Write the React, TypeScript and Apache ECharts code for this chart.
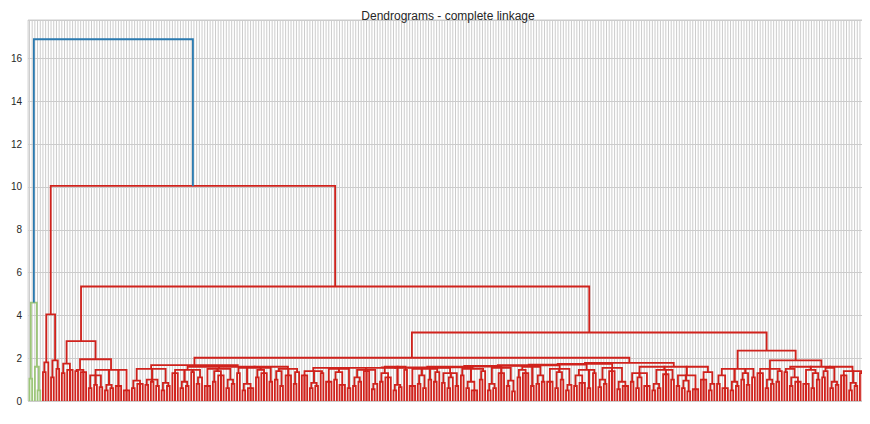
import React, { useEffect, useRef } from "react";
import * as echarts from "echarts";

// Tree: [mergeHeight, ...children]; 0 = leaf
const clusterA = [4.6, [1.05, 0, 0], [1.6, 0, [0.5, 0, 0]]];
const clusterB = [4.05, [1.8, [1.35, 0, 0], 0], [1.9, [1.1, 0, 0], [1.5, 0, 0]]];
const clusterC = [2.8, [1.75, [1.3, 0, 0], [1.45, 0, 0, 0]],
  [1.95, [1.45, [1.4, 0, 0], [1.35, 0, 0, 0]],
    [1.45, [1.2, [0.6, 0, 0], [0.75, 0, 0], [0.65, 0, 0]], [0.75, [0.5, 0, 0], [0.6, 0, 0]], [0.7, 0, 0, 0], [0.5, 0, 0, 0]]]];
const clusterD1 = [1.5, [0.95, [0.6, 0, 0], [0.8, 0, 0, 0]], [1.0, [0.75, 0, 0], [0.9, 0, 0], [0.7, 0, 0]], [0.85, [0.5, 0, 0], [0.7, 0, 0]]];
const clusterD2 = [1.6,
  [1.45, [1.3, 0, 0, 0], [0.9, [0.6, 0, 0], [0.7, 0, 0]], [1.35, 0, 0], [1.1, [0.8, 0, 0], 0]],
  [1.5, [0.7, 0, 0, 0], [1.4, [0.9, 0, 0], [1.2, 0, 0, 0]], [1.0, [0.6, 0, 0], [0.8, 0, 0]]],
  [1.55, [1.3, 0, 0], [0.8, [0.5, 0, 0], [0.6, 0, 0, 0]], [1.45, [1.1, 0, 0], [1.3, 0, 0, 0]], [0.9, 0, 0]],
  [1.5, [1.4, [1.0, 0, 0], [0.7, 0, 0]], [1.2, 0, 0, 0], [1.35, [0.8, 0, 0], 0]]];
const clusterE1a = [1.55,
  [1.4, [1.2, 0, 0, 0], [0.85, [0.6, 0, 0], [0.7, 0, 0]], [1.3, 0, 0]],
  [1.5, [0.9, 0, 0, 0], [1.35, [1.0, 0, 0], [0.75, 0, 0, 0]], [0.6, 0, 0]],
  [1.45, [1.1, [0.7, 0, 0], [0.9, 0, 0]], [1.4, 0, 0, 0], [0.8, [0.55, 0, 0], 0]],
  [1.6, [1.3, [0.9, 0, 0], [1.1, 0, 0, 0]], [0.75, [0.5, 0, 0], [0.65, 0, 0]], [1.45, 0, 0]],
  [1.5, [0.7, 0, 0, 0], [1.2, [0.8, 0, 0], [0.6, 0, 0]], [1.0, 0, 0], [1.35, [0.9, 0, 0], 0]],
  [1.3, [0.85, 0, 0], [1.1, [0.6, 0, 0], 0], [0.7, 0, 0]]];
const clusterE1bGroups = [
  [1.5, [1.2, 0, 0], [0.9, [0.6, 0, 0], [0.5, 0, 0, 0]], [1.4, [1.0, 0, 0], 0]],
  [1.55, [0.8, [0.5, 0, 0], [0.6, 0, 0]], [1.3, 0, 0, 0], [0.95, [0.7, 0, 0], [0.45, 0, 0]]],
  [1.6, [1.45, [1.1, 0, 0], [1.3, 0, 0, 0]], [0.7, 0, 0], [1.2, [0.8, 0, 0], [0.9, 0, 0]]],
  [1.5, [0.9, 0, 0, 0], [1.35, [0.6, 0, 0], [1.0, 0, 0]], [0.75, [0.5, 0, 0], 0]],
  [1.45, [1.2, [0.7, 0, 0], [0.85, 0, 0, 0]], [0.6, 0, 0], [1.3, 0, 0]],
  [1.55, [1.0, [0.65, 0, 0], [0.8, 0, 0]], [1.4, 0, 0, 0], [0.9, [0.55, 0, 0], [0.7, 0, 0, 0]]]];
const ladderHeightsE1 = [1.57, 1.61, 1.64, 1.67, 1.7, 1.73];
const clusterE2 = [1.6,
  [1.3, [0.9, 0, 0], [1.1, [0.6, 0, 0], 0], [0.7, 0, 0, 0]],
  [1.45, [0.8, [0.5, 0, 0], [0.6, 0, 0]], [1.25, 0, 0, 0], [1.0, 0, 0]],
  [1.2, [0.7, 0, 0], [0.95, [0.6, 0, 0], [0.45, 0, 0]], [0.55, 0, 0, 0]],
  [1.35, [1.0, 0, 0, 0], [0.8, [0.5, 0, 0], 0]]];
const clusterF1 = [1.5, [1.2, [0.8, 0, 0], [0.6, 0, 0, 0]], [0.9, [0.5, 0, 0], [0.7, 0, 0]], [1.3, [1.0, 0, 0], [0.75, 0, 0]], [1.1, 0, 0]];
const clusterF2a = [1.5, [1.3, 0, 0, 0], [1.0, [0.6, 0, 0], [0.8, 0, 0]], [1.4, [0.9, 0, 0], 0]];
const clusterF2b = [1.6,
  [1.5, [1.35, 0, 0], [1.1, [0.7, 0, 0], [0.9, 0, 0, 0]]],
  [1.45, [0.8, 0, 0, 0], [1.3, [0.6, 0, 0], [1.0, 0, 0]]],
  [1.55, [1.4, [1.1, 0, 0], 0], [0.9, [0.6, 0, 0], [0.75, 0, 0]]],
  [1.4, [1.2, 0, 0, 0], [0.85, [0.5, 0, 0], [0.7, 0, 0]], [1.3, 0, 0]]];

const rootHeight = 16.9;
const node10Height = 10.05;
const node535Height = 5.35;
const node32Height = 3.2;
const node20Height = 2.02;
const clusterDHeight = 1.68;
const clusterEHeight = 1.78;
const clusterFHeight = 2.35;
const clusterF2Height = 1.9;

const yTicks = [0, 2, 4, 6, 8, 10, 12, 14, 16];
const colors = ["#2a7ab0", "#9dc67a", "#d0221c"];

export default function App() {
  const ref = useRef<HTMLDivElement>(null);
  useEffect(() => {
    let clusterE1: any = clusterE1a;
    clusterE1bGroups.forEach((g, i) => { clusterE1 = [ladderHeightsE1[i], clusterE1, g]; });
    const clusterD = [clusterDHeight, clusterD1, clusterD2];
    const clusterE = [clusterEHeight, clusterE1, clusterE2];
    const clusterF = [clusterFHeight, clusterF1, [clusterF2Height, clusterF2a, clusterF2b]];
    const node20 = [node20Height, clusterD, clusterE];
    const node32 = [node32Height, node20, clusterF];
    const node535 = [node535Height, clusterC, node32];
    const node10 = [node10Height, clusterB, node535];

    const links: number[][] = [];
    const leaves: number[] = [];
    let leafIdx = 0;
    const walk = (n: any, c: number): { x: number; h: number } => {
      if (n === 0) {
        const x = 5 + 10 * leafIdx++;
        leaves.push(x);
        return { x, h: 0 };
      }
      const h = n[0];
      const kids = n.slice(1).map((k: any) => walk(k, c));
      for (let i = 0; i < kids.length - 1; i++)
        links.push([kids[i].x, kids[i].h, kids[i + 1].x, kids[i + 1].h, h, c]);
      return { x: (kids[0].x + kids[kids.length - 1].x) / 2, h };
    };
    const a = walk(clusterA, 1);
    const b = walk(node10, 2);
    links.push([a.x, a.h, b.x, b.h, rootHeight, 0]);
    const N = leafIdx;
    const yMax = 17.8;

    const chart = echarts.init(ref.current!, null, { renderer: "svg" });
    chart.setOption({
      animation: false,
      backgroundColor: "#fff",
      title: {
        text: "Dendrograms - complete linkage",
        left: 435, top: -3, textAlign: "center",
        textStyle: { fontSize: 12, fontWeight: "normal", color: "#262626", fontFamily: "Liberation Sans" },
      },
      grid: { left: 14, right: 6, top: 12, bottom: 15, show: true, borderColor: "#cccccc", borderWidth: 1 },
      xAxis: {
        type: "value", min: 0, max: 10 * N,
        axisLine: { show: false }, axisTick: { show: false }, axisLabel: { show: false }, splitLine: { show: false },
      },
      yAxis: {
        type: "value", min: 0, max: yMax, interval: 2,
        axisLine: { show: false }, axisTick: { show: false },
        axisLabel: { showMaxLabel: false, color: "#262626", fontSize: 10, fontFamily: "Liberation Sans", margin: 6,
          formatter: (v: number) => (yTicks.includes(v) ? String(v) : "") },
        splitLine: { lineStyle: { color: "#cccccc", width: 1 } },
      },
      series: [
        {
          type: "custom", z: 1, silent: true,
          data: leaves,
          renderItem: (_p: any, api: any) => {
            const x = api.value(0);
            const p0 = api.coord([x, 0]);
            const p1 = api.coord([x, yMax]);
            return { type: "line", shape: { x1: p0[0], y1: p0[1], x2: p1[0], y2: p1[1] }, style: { stroke: "#cccccc", lineWidth: 1 } };
          },
        },
        {
          type: "custom", z: 3, silent: true,
          data: links,
          renderItem: (_p: any, api: any) => {
            const xa = api.value(0), ya = api.value(1), xb = api.value(2), yb = api.value(3), h = api.value(4), c = api.value(5);
            const pts = [api.coord([xa, ya]), api.coord([xa, h]), api.coord([xb, h]), api.coord([xb, yb])];
            return { type: "polyline", shape: { points: pts }, style: { stroke: colors[c], lineWidth: 1.8, fill: "none" } };
          },
        },
      ],
    });
    return () => chart.dispose();
  }, []);
  return <div ref={ref} style={{ width: 862, height: 408 }} />;
}
